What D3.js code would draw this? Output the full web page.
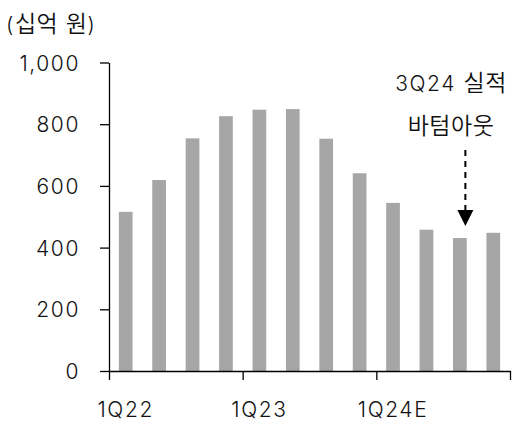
<!DOCTYPE html>
<html>
<head>
<meta charset="utf-8">
<script src="https://cdn.jsdelivr.net/npm/d3@7/dist/d3.min.js"></script>
<style>
  html, body { margin: 0; padding: 0; background: #fff; }
  svg { display: block; }
  .lat { font-family: Inter, Lato, sans-serif; font-size: 21px; font-weight: 300; letter-spacing: 1.6px; fill: #111; }
  .kor { font-family: "Noto Sans CJK KR", sans-serif; font-size: 23px; font-weight: 350; letter-spacing: 0.5px; fill: #111; }
</style>
</head>
<body>
<svg id="chart" width="512" height="426"></svg>
<script>
// Quarterly values (십억 원)
const categories = ["1Q22","2Q22","3Q22","4Q22","1Q23","2Q23","3Q23","4Q23","1Q24E","2Q24E","3Q24E","4Q24E"];
const values = [516, 619, 754, 826, 847, 849, 753, 641, 545, 458, 431, 448];
const yTicks = [0, 200, 400, 600, 800, 1000];
const xTickLabels = ["1Q22", "1Q23", "1Q24E"];
const unitLabel = "(십억 원)";
const noteLines = ["3Q24 실적", "바텀아웃"];
const noteTarget = "3Q24E";

const svg = d3.select("#chart");
const plot = { left: 109, right: 510, top: 62.5, bottom: 371 };

const x = d3.scaleBand().domain(categories).range([plot.left, plot.right])
  .paddingInner(0.59).paddingOuter(0.295);
const y = d3.scaleLinear().domain([0, 1000]).range([plot.bottom, plot.top]);
// quarter-index scale for the boundary ticks on the x axis
const xi = d3.scaleLinear().domain([0, categories.length]).range([plot.left, plot.right]);

// write a string as Latin / Hangul runs so each gets its own face
function mixedText(sel, str) {
  const runs = str.match(/[\uAC00-\uD7AF]+|[^\uAC00-\uD7AF]+/g) || [];
  runs.forEach(r => {
    sel.append("tspan")
      .attr("class", /[\uAC00-\uD7AF]/.test(r) ? "kor" : "lat")
      .text(r);
  });
}

// bars
svg.append("g").selectAll("rect").data(values).join("rect")
  .attr("x", (d, i) => x(categories[i]))
  .attr("y", d => y(d))
  .attr("width", x.bandwidth())
  .attr("height", d => y(0) - y(d))
  .attr("fill", "#a6a6a6");

// y axis
const yAxis = svg.append("g").attr("transform", `translate(${plot.left},0)`)
  .call(d3.axisLeft(y).tickValues(yTicks).tickFormat(d3.format(","))
    .tickSize(9).tickSizeOuter(0).tickPadding(20));
// x axis: ticks at year boundaries, labels under first quarter of each year
const xAxis = svg.append("g").attr("transform", `translate(0,${plot.bottom})`)
  .call(d3.axisBottom(xi).tickValues([0, 4, 8, 12]).tickFormat("")
    .tickSize(9).tickSizeOuter(0));

[yAxis, xAxis].forEach(g => {
  g.attr("font-family", null).attr("font-size", null);
  g.select(".domain").attr("stroke", "#000").attr("stroke-width", 1.3);
  g.selectAll(".tick line").attr("stroke", "#000").attr("stroke-width", 1.3);
});
yAxis.selectAll(".tick text")
  .attr("class", "lat").attr("fill", null).attr("dy", "0.36em");

svg.append("g").selectAll("text").data(xTickLabels).join("text")
  .attr("class", "lat")
  .attr("x", d => x(d) + x.bandwidth() / 2)
  .attr("y", 417)
  .attr("text-anchor", "middle")
  .text(d => d);

// unit label
svg.append("text").attr("x", 6).attr("y", 32)
  .call(mixedText, unitLabel);

// annotation
const noteX = 451;
svg.append("g").selectAll("text").data(noteLines).join("text")
  .attr("x", noteX)
  .attr("y", (d, i) => 91 + i * 43)
  .attr("text-anchor", "middle")
  .each(function (d) { d3.select(this).call(mixedText, d); });

const ax = x(noteTarget) + x.bandwidth() / 2 + 5.5;
svg.append("line")
  .attr("x1", ax).attr("x2", ax).attr("y1", 150).attr("y2", 210)
  .attr("stroke", "#000").attr("stroke-width", 2)
  .attr("stroke-dasharray", "6,5");
svg.append("path")
  .attr("d", `M${ax - 8},210 L${ax + 8},210 L${ax},226 Z`)
  .attr("fill", "#000");
</script>
</body>
</html>
